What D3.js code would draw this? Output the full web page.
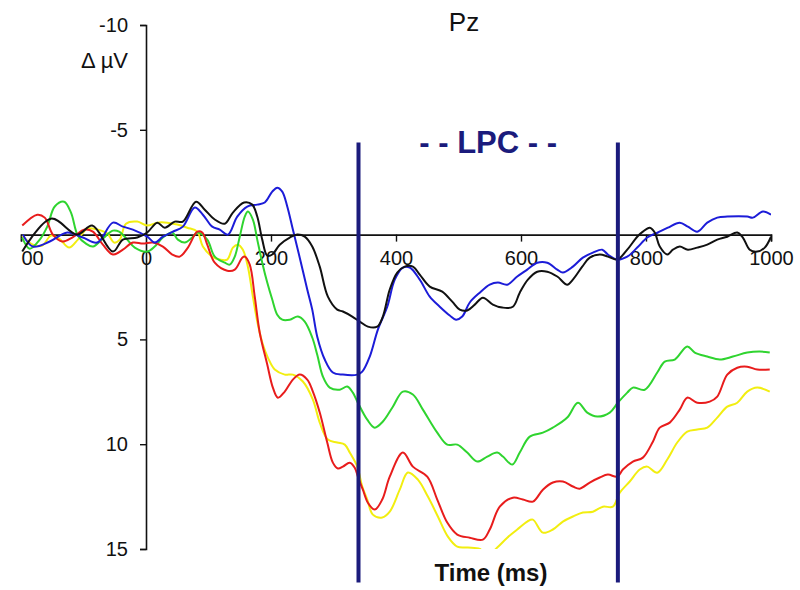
<!DOCTYPE html>
<html>
<head>
<meta charset="utf-8">
<script src="https://cdn.jsdelivr.net/npm/d3@7/dist/d3.min.js"></script>
<style>
  html, body { margin: 0; padding: 0; background: #fff; }
  svg { display: block; }
  text { font-family: "Liberation Sans", Arial, sans-serif; fill: #111; }
</style>
</head>
<body>
<svg id="chart" width="800" height="590"></svg>
<script>
// Grand-average ERP at Pz, time in ms, amplitude in µV (negative plotted up)
const xTicks = [-200, 0, 200, 400, 600, 800, 1000];
const xTickLabels = ["00", "0", "200", "400", "600", "800", "1000"];
const yTicks = [-10, -5, 5, 10, 15];
const yTickLabels = ["-10", "-5", "5", "10", "15"];
const lpcWindow = [340, 755];
const lpcSpan = [-4.4, 16.6];

const black = [[-198,0.81],[-152,-0.76],[-110,0],[-86,-0.43],[-53,0.81],[-37,0.24],[-14,0.14],[2,-0.1],[18,-0.57],[30,-0.33],[46,-0.62],[59,-0.62],[80,-1.57],[94,-1.19],[110,-0.72],[126,-0.52],[139,-1.05],[157,-1.53],[170,-1.43],[178,-0.86],[186,0.24],[194,1.0],[202,0.95],[214,0.48],[230,0.14],[242,0],[254,0.1],[266,0.57],[278,1.53],[291,2.96],[306,3.58],[315,3.67],[330,3.91],[342,4.15],[355,4.39],[370,4.39],[379,3.91],[390,2.62],[402,1.81],[414,1.53],[427,1.53],[438,1.91],[454,2.48],[474,2.72],[490,3.2],[502,3.58],[514,3.62],[526,3.34],[539,3.01],[555,3.34],[570,3.48],[587,3.44],[598,2.77],[611,2.15],[626,1.77],[642,1.77],[658,2.0],[674,2.39],[683,2.15],[698,1.53],[710,1.1],[726,0.95],[739,1.05],[754,1.19],[770,0.72],[786,0.1],[795,-0.14],[806,-0.33],[814,-0.1],[822,0.57],[834,0.95],[843,0.72],[854,0.57],[867,0.72],[882,0.62],[898,0.48],[914,0.24],[930,0.1],[946,-0.1],[955,0.14],[966,0.72],[978,0.81],[990,0.62],[1000,0.1]];

const blue = [[-197,0],[-181,0.57],[-154,0.33],[-126,-0.1],[-101,0.14],[-78,0.38],[-53,-0.57],[-37,-0.38],[-21,-0.24],[2,0.1],[14,0.38],[27,0.1],[43,-0.14],[59,-0.38],[78,-1.29],[91,-0.95],[106,-0.38],[118,-0.24],[131,0],[146,-0.86],[162,-1.34],[178,-1.43],[190,-1.53],[202,-2.05],[210,-2.24],[218,-2.05],[226,-1.34],[235,-0.24],[246,1.1],[258,2.62],[266,3.58],[274,4.87],[286,5.96],[299,6.58],[315,6.68],[338,6.68],[346,6.54],[358,5.82],[371,4.53],[386,3.44],[398,2.15],[411,1.57],[422,1.57],[438,2.15],[454,2.96],[470,3.44],[486,3.86],[496,4.06],[506,3.91],[518,3.24],[534,2.77],[550,2.39],[563,2.29],[578,2.39],[594,2.0],[610,1.67],[626,1.34],[642,1.34],[658,1.67],[667,1.81],[683,1.53],[699,1.1],[715,0.86],[730,0.72],[739,0.95],[754,1.19],[770,1.05],[786,0.62],[802,0.14],[819,-0.1],[835,-0.33],[854,-0.57],[867,-0.38],[882,-0.14],[898,-0.57],[914,-0.81],[930,-0.86],[962,-0.86],[971,-0.81],[987,-1.1],[1000,-0.95]];

const red = [[-198,-0.43],[-174,-0.95],[-162,-0.81],[-149,0],[-134,0.33],[-118,0.14],[-98,-0.24],[-85,-0.14],[-69,0.48],[-53,0.95],[-37,0.72],[-21,0.38],[-5,0.43],[11,0.38],[27,0.57],[42,0.95],[54,1.05],[67,0.62],[82,-0.14],[90,-0.1],[98,0.48],[110,1.34],[130,1.72],[142,1.67],[154,1.1],[158,1.05],[166,1.43],[174,2.96],[182,4.68],[194,6.2],[203,7.3],[211,7.78],[222,7.49],[235,6.92],[246,6.68],[258,6.92],[267,7.49],[278,8.49],[290,9.92],[299,10.88],[307,11.16],[315,11.07],[326,10.88],[334,11.12],[339,11.55],[347,12.17],[355,12.79],[366,13.12],[378,12.64],[390,11.55],[411,10.4],[427,11.07],[450,11.55],[466,12.64],[482,13.74],[498,14.31],[518,14.46],[539,14.55],[550,14.07],[566,12.98],[587,12.55],[603,12.64],[619,12.74],[635,12.17],[651,11.83],[667,11.78],[683,12.02],[694,12.12],[710,11.83],[726,11.59],[739,11.45],[754,11.55],[763,11.21],[779,10.83],[795,10.64],[811,9.88],[822,9.21],[838,8.97],[854,8.35],[866,7.78],[882,8.02],[902,7.97],[914,7.73],[930,6.68],[946,6.35],[962,6.3],[978,6.44],[998,6.44]];

const green = [[-198,0.14],[-186,0.67],[-170,0.24],[-158,-0.38],[-146,-1.34],[-131,-1.57],[-120,-1.05],[-109,0.05],[-96,0.43],[-85,0.57],[-69,0.19],[-53,-0.19],[-43,-0.14],[-30,0.24],[-18,0.62],[2,0.81],[14,0.57],[27,0.14],[42,-0.1],[51,0.24],[62,0.38],[74,0.14],[83,-0.1],[98,0.24],[110,1.05],[126,1.34],[134,1.43],[142,1.05],[150,0.1],[158,-0.86],[163,-1.1],[171,-0.72],[178,0.24],[186,1.34],[194,2.29],[202,3.1],[210,3.82],[218,4.06],[230,4.06],[243,3.91],[254,4.15],[266,4.91],[274,5.73],[283,6.77],[294,7.3],[310,7.4],[322,7.25],[331,7.54],[339,8.02],[354,8.83],[366,9.21],[379,8.92],[395,8.21],[411,7.49],[427,7.63],[443,8.35],[466,9.45],[482,10.02],[498,10.02],[514,10.4],[530,10.83],[546,10.59],[562,10.4],[571,10.59],[586,10.97],[598,10.4],[614,9.64],[635,9.45],[651,9.21],[674,8.73],[691,8.02],[706,8.49],[722,8.68],[742,8.49],[755,8.02],[770,7.54],[779,7.3],[798,7.4],[818,6.58],[830,6.06],[846,5.96],[866,5.34],[878,5.63],[898,5.82],[918,5.96],[939,5.82],[962,5.63],[982,5.58],[998,5.63]];

const yellow = [[-198,0.05],[-181,0.48],[-166,0.52],[-152,0.05],[-139,0.19],[-123,0.62],[-109,0.24],[-94,-0.29],[-78,-0.24],[-62,-0.05],[-51,0.38],[-42,0.24],[-32,-0.52],[-14,-0.62],[2,-0.43],[18,-0.57],[34,-0.57],[50,-0.48],[66,-0.33],[82,-0.14],[91,0.57],[106,1.05],[118,1.19],[130,1.19],[139,0.62],[147,0.48],[155,0.72],[163,1.53],[171,2.96],[179,4.29],[187,5.25],[195,5.87],[206,6.44],[222,6.68],[235,6.68],[251,7.01],[267,7.87],[278,8.97],[291,9.78],[306,9.92],[318,10.02],[326,10.4],[338,11.07],[346,12.02],[354,12.64],[363,13.36],[378,13.5],[390,13.22],[406,12.17],[419,11.35],[435,11.69],[451,12.5],[467,13.45],[483,14.41],[498,14.89],[515,14.93],[534,15.0],[547,15.3],[562,14.93],[578,14.46],[594,14.07],[610,13.69],[619,13.6],[635,14.22],[651,14.07],[667,13.69],[683,13.45],[699,13.26],[715,13.22],[731,12.98],[747,12.98],[758,12.31],[774,11.78],[790,11.21],[802,11.07],[818,11.36],[834,10.73],[850,9.92],[866,9.4],[882,9.3],[898,9.21],[914,8.73],[930,8.21],[946,8.02],[962,7.49],[978,7.3],[998,7.49]];

const series = [
  { name: "yellow", values: yellow, color: "#f2ee10" },
  { name: "green",  values: green,  color: "#2fd42f" },
  { name: "red",    values: red,    color: "#e81c1c" },
  { name: "blue",   values: blue,   color: "#1c1cd8" },
  { name: "black",  values: black,  color: "#111111" }
];

const svg = d3.select("#chart");
const x = d3.scaleLinear().domain([-200, 1000]).range([21, 771]);
const y = d3.scaleLinear().domain([-10, 15]).range([25, 549]);

// plotting region clip (amplitudes beyond the axis limits are cut off)
svg.append("clipPath").attr("id", "plotClip")
  .append("rect")
  .attr("x", x(-200)).attr("y", y(-10))
  .attr("width", x(1000) - x(-200)).attr("height", y(15) - y(-10));

// x axis along 0 µV
const xAxis = svg.append("g")
  .attr("transform", `translate(0,${y(0)})`)
  .call(d3.axisBottom(x).tickValues(xTicks).tickSize(7).tickPadding(9)
    .tickFormat((d, i) => xTickLabels[i]));
xAxis.select(".domain").attr("stroke", "#111").attr("stroke-width", 1.6);
xAxis.selectAll(".tick line").attr("stroke", "#111").attr("stroke-width", 1.4)
  .filter(d => d === 0).remove();
xAxis.selectAll(".tick text").attr("font-size", 20).attr("fill", "#111")
  .attr("font-family", "Liberation Sans, Arial, sans-serif");
xAxis.selectAll(".tick text").filter(d => d === -200).attr("text-anchor", "start");

// y axis at time 0
const yAxis = svg.append("g")
  .attr("transform", `translate(${x(0)},0)`)
  .call(d3.axisLeft(y).tickValues(yTicks).tickSize(6).tickPadding(12)
    .tickFormat((d, i) => yTickLabels[i]));
yAxis.select(".domain").attr("stroke", "#111").attr("stroke-width", 1.6);
yAxis.selectAll(".tick line").attr("stroke", "#111").attr("stroke-width", 1.4);
yAxis.selectAll(".tick text").attr("font-size", 20).attr("fill", "#111")
  .attr("font-family", "Liberation Sans, Arial, sans-serif");

svg.append("text").attr("x", 128).attr("y", 68).attr("text-anchor", "end")
  .attr("font-size", 22).text("Δ µV");

svg.append("text").attr("x", 464).attr("y", 31).attr("text-anchor", "middle")
  .attr("font-size", 26).text("Pz");

// waveforms
const line = d3.line()
  .x(d => x(d[0]))
  .y(d => y(d[1]))
  .curve(d3.curveCatmullRom.alpha(0.5));

svg.append("g").attr("clip-path", "url(#plotClip)")
  .selectAll("path")
  .data(series)
  .join("path")
  .attr("fill", "none")
  .attr("stroke", d => d.color)
  .attr("stroke-width", 2)
  .attr("stroke-linejoin", "round")
  .attr("d", d => line(d.values));

// LPC analysis window
svg.append("g").selectAll("line")
  .data(lpcWindow)
  .join("line")
  .attr("x1", d => x(d)).attr("x2", d => x(d))
  .attr("y1", y(lpcSpan[0])).attr("y2", y(lpcSpan[1]))
  .attr("stroke", "#1b1b7c").attr("stroke-width", 4);

svg.append("text")
  .attr("x", (x(lpcWindow[0]) + x(lpcWindow[1])) / 2)
  .attr("y", 153)
  .attr("text-anchor", "middle")
  .attr("font-size", 31).attr("font-weight", "bold")
  .style("fill", "#1b1b7c")
  .text("- - LPC - -");

svg.append("text").attr("x", 491).attr("y", 581).attr("text-anchor", "middle")
  .attr("font-size", 24).attr("font-weight", "bold")
  .text("Time (ms)");
</script>
</body>
</html>
